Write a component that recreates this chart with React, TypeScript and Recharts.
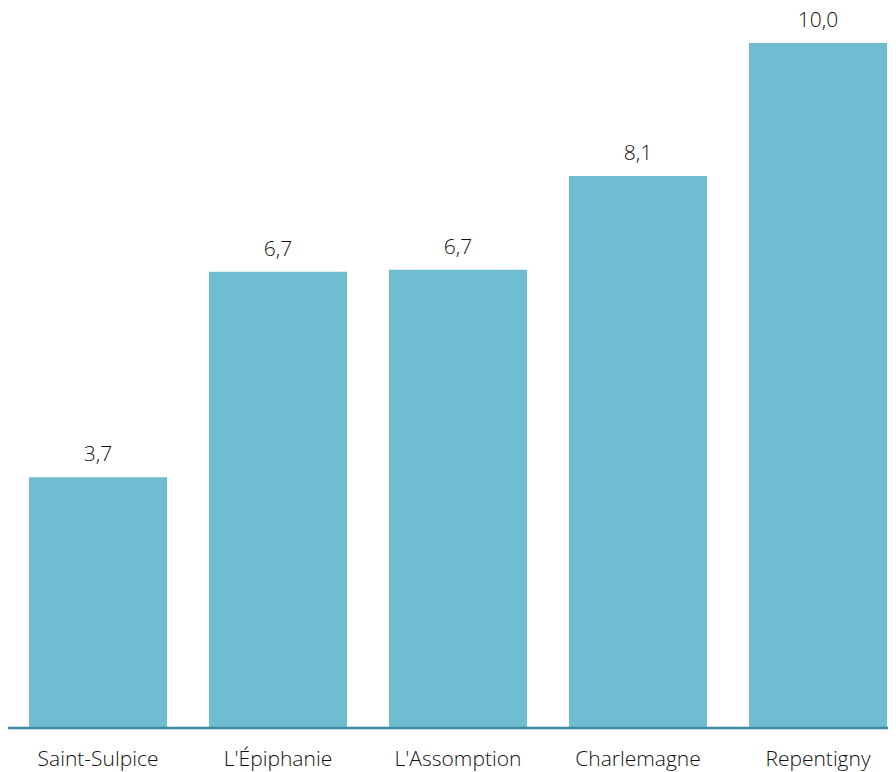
import React from "react";
import { BarChart, Bar, XAxis, YAxis, LabelList } from "recharts";

const categories = ["Saint-Sulpice", "L'Épiphanie", "L'Assomption", "Charlemagne", "Repentigny"];
const values = [3.66, 6.66, 6.69, 8.06, 10.0];

const data = categories.map((name, i) => ({ name, value: values[i] }));

const fmt = (v: any) => Number(v).toFixed(1).replace(".", ",");

export default function App() {
  return (
    <div style={{ width: 888, height: 772, marginTop: -8, overflow: "hidden" }}>
      <BarChart
        width={900}
        height={772}
        data={data}
        margin={{ top: 43, right: 0, bottom: 0, left: 0 }}
        barCategoryGap={21}
      >
        <YAxis hide domain={[0, 10]} />
        <XAxis
          dataKey="name"
          height={44}
          tickLine={false}
          tickMargin={17}
          axisLine={{ stroke: "#3a8ba3", strokeWidth: 2.5 }}
          tick={{ fill: "#111", fontSize: 21, fontFamily: "Open Sans", fontWeight: 300 }}
        />
        <Bar dataKey="value" fill="#70bcd1" isAnimationActive={false}>
          <LabelList
            dataKey="value"
            position="top"
            offset={16}
            formatter={fmt}
            style={{ fill: "#111", fontSize: 21, fontFamily: "Open Sans", fontWeight: 300 }}
          />
        </Bar>
      </BarChart>
    </div>
  );
}
